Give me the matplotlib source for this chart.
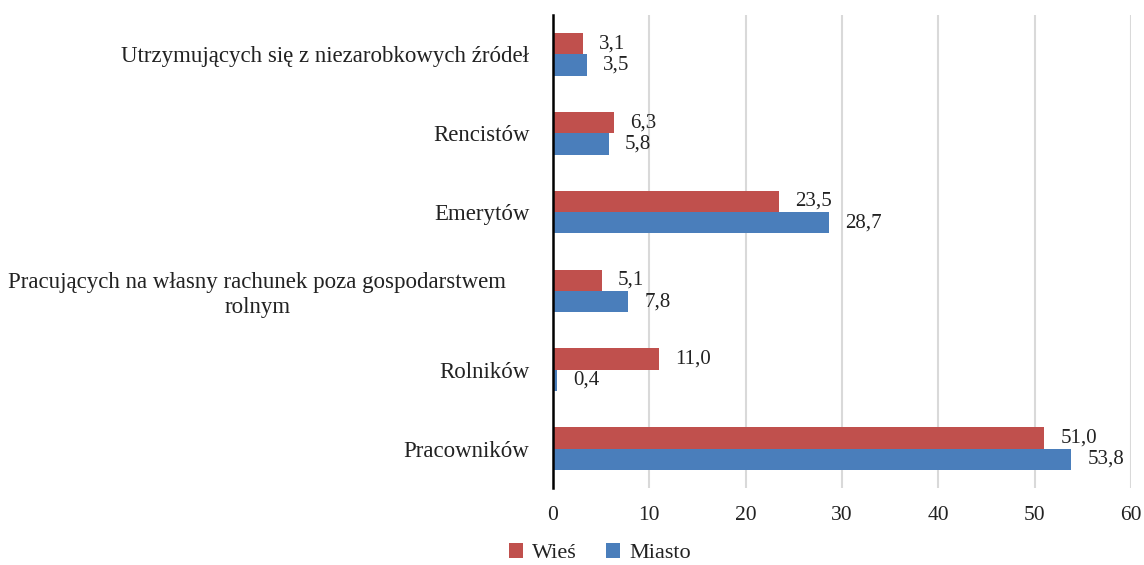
import matplotlib
matplotlib.use("Agg")
import matplotlib.pyplot as plt
import matplotlib.transforms as mtransforms
import numpy as np

categories = ["Pracowników", "Rolników",
              "Pracujących na własny rachunek poza gospodarstwem\nrolnym",
              "Emerytów", "Rencistów", "Utrzymujących się z niezarobkowych źródeł"]
wies = [51.0, 11.0, 5.1, 23.5, 6.3, 3.1]
miasto = [53.8, 0.4, 7.8, 28.7, 5.8, 3.5]
xticks = [0, 10, 20, 30, 40, 50, 60]

plt.rcParams['font.family'] = ['Liberation Serif', 'DejaVu Serif']

W, H = 1144, 565
fig = plt.figure(figsize=(W / 100, H / 100), dpi=100)
ax = fig.add_axes([553 / W, 1 - 488 / H, (1131 - 553) / W, (488 - 15) / H])

y = np.arange(len(categories))
h = 0.27
red = '#c0504d'
blue = '#4a7ebb'
b1 = ax.barh(y + h / 2, wies, height=h, color=red, label='Wieś')
b2 = ax.barh(y - h / 2, miasto, height=h, color=blue, label='Miasto')


def fmt(v):
    return f"{v:.1f}".replace('.', ',')


for yi, v in zip(y, wies):
    ax.annotate(fmt(v), (v, yi + h / 2), xytext=(16, 0), textcoords='offset pixels',
                va='center', ha='left', fontsize=15, color='#222222')
for yi, v in zip(y, miasto):
    ax.annotate(fmt(v), (v, yi - h / 2), xytext=(16, 0), textcoords='offset pixels',
                va='center', ha='left', fontsize=15, color='#222222')

ax.set_xlim(0, 60)
ax.set_ylim(-0.5, len(categories) - 0.5)
ax.set_xticks(xticks)
ax.set_xticklabels([str(t) for t in xticks], fontsize=15.5, color='#222222')
ax.set_yticks(y)
ax.set_yticklabels(categories, fontsize=16.5, color='#222222')
ax.tick_params(axis='y', length=0, pad=17)
ax.tick_params(axis='x', length=0, pad=13)
ax.grid(axis='x', color='#d9d9d9', linewidth=1.5)
ax.set_axisbelow(True)
for s in ['top', 'right', 'bottom']:
    ax.spines[s].set_visible(False)
ax.spines['left'].set_color('black')
ax.spines['left'].set_linewidth(1.8)

# the wrapped label is centred as a block
lab = ax.get_yticklabels()[2]
lab.set_multialignment('center')
lab.set_horizontalalignment('center')
lab.set_transform(lab.get_transform() +
                  mtransforms.ScaledTranslation(-(530 - 258) / 100, 0, fig.dpi_scale_trans))

ax.legend(handles=[b1, b2], loc='center', bbox_to_anchor=(600 / W, 1 - 553 / H),
          bbox_transform=fig.transFigure, ncol=2, frameon=False, fontsize=16,
          handlelength=0.65, handleheight=0.65, columnspacing=1.3, handletextpad=0.4,
          labelcolor='#222222')

fig.savefig('out.png', dpi=100)
